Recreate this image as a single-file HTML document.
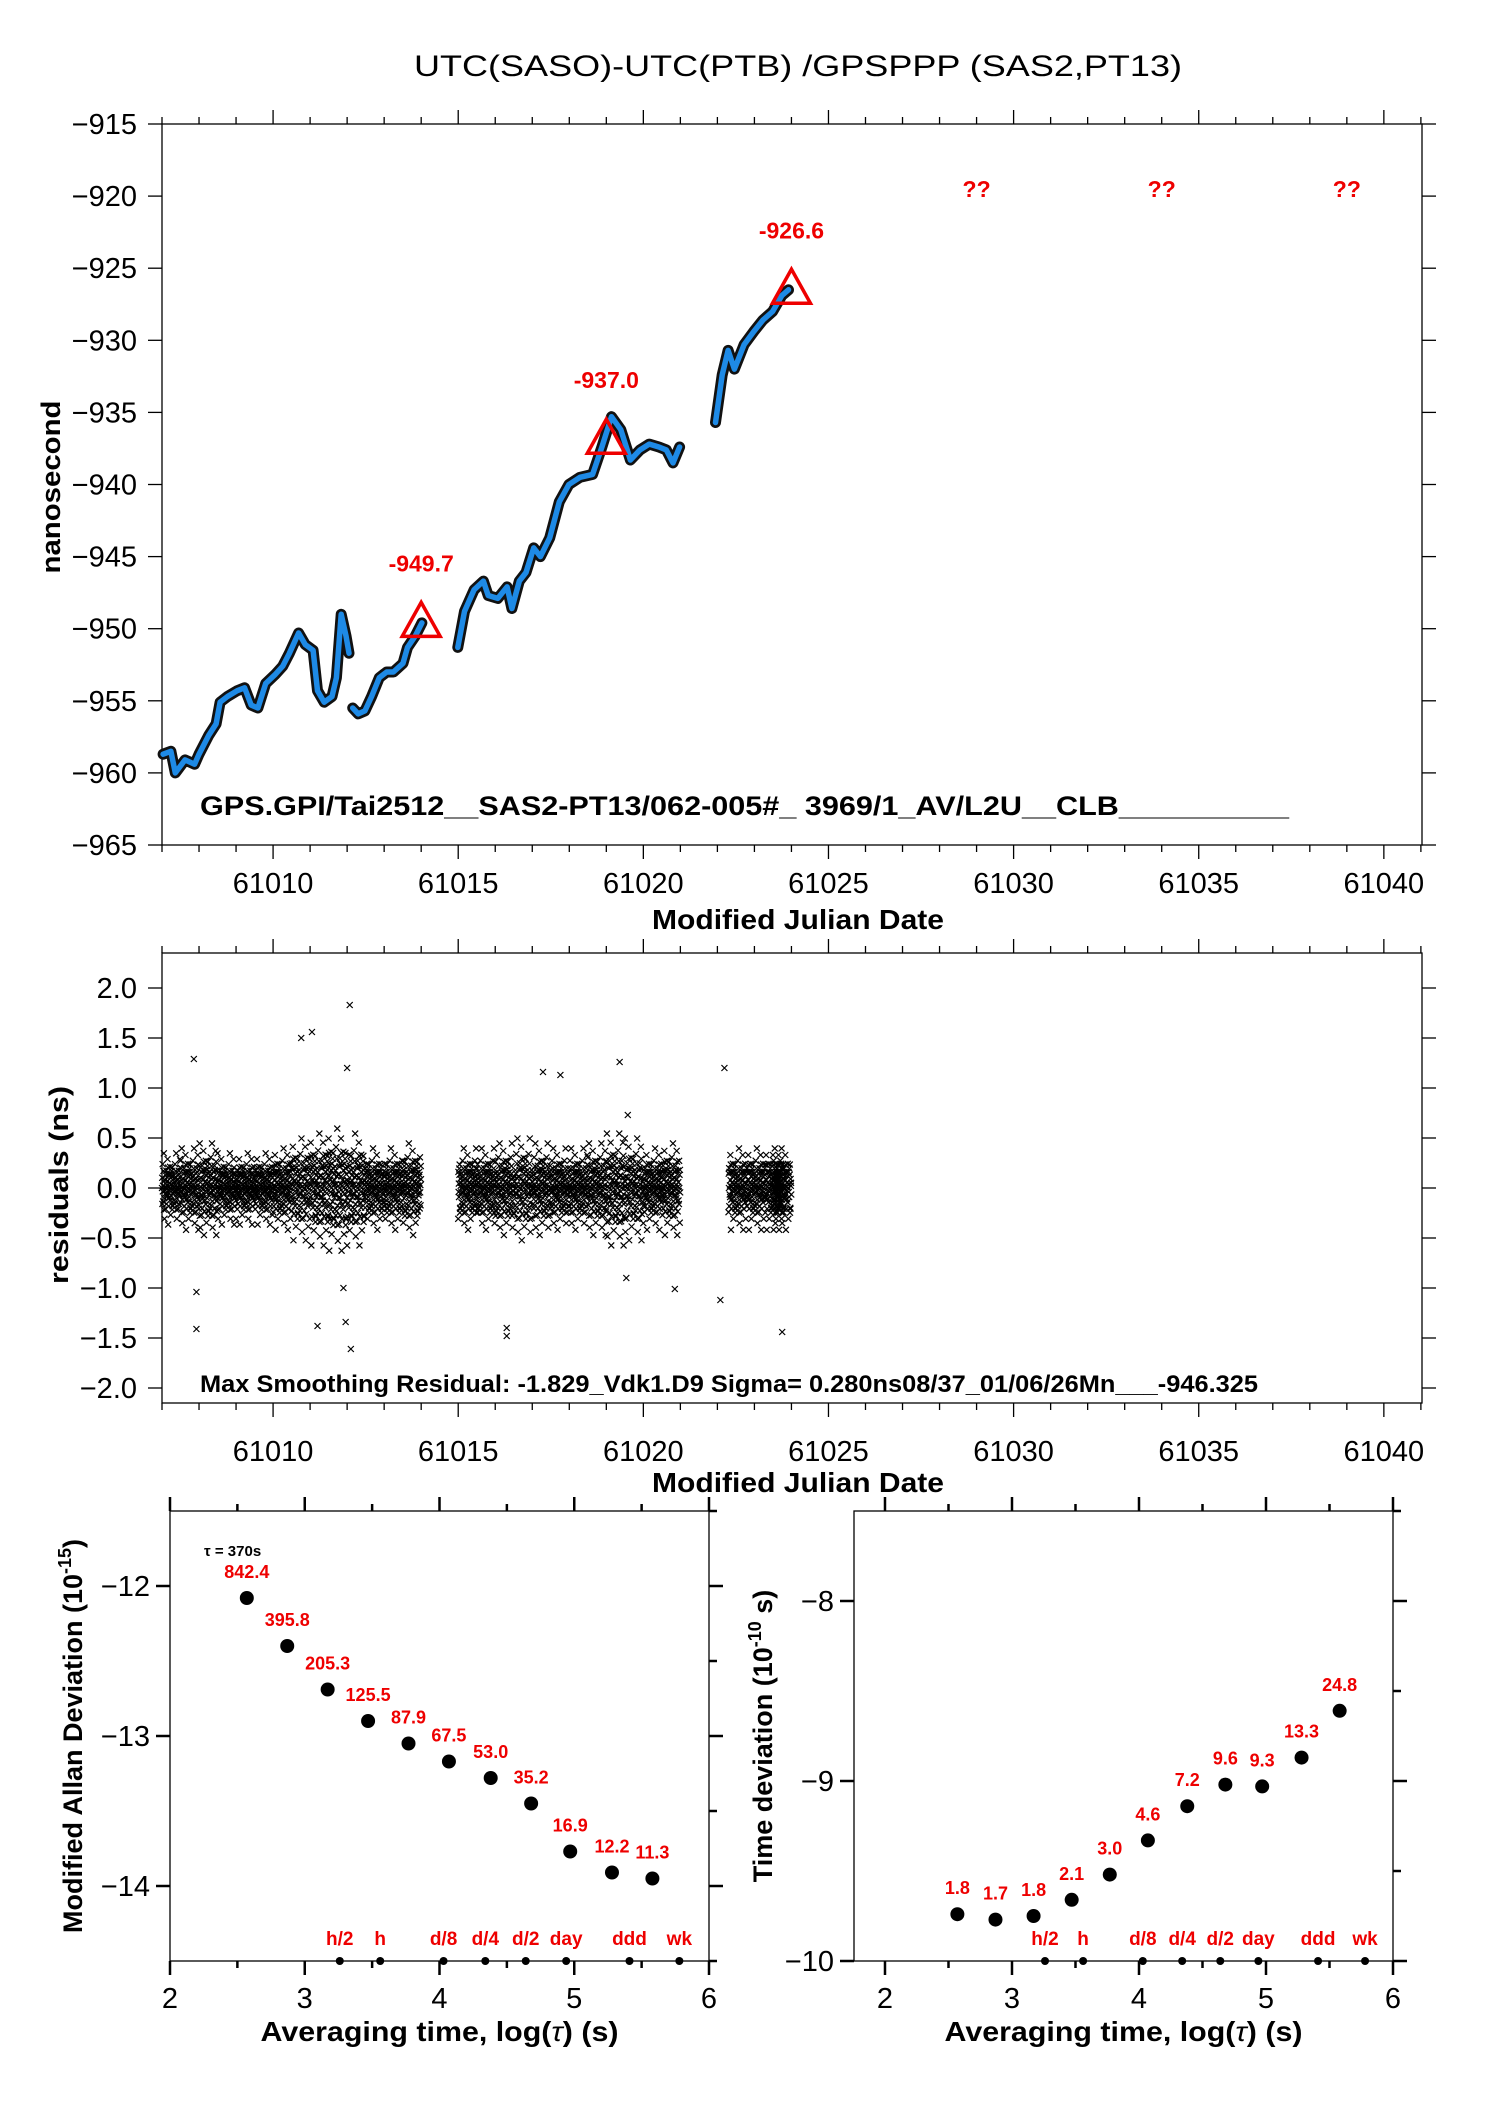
<!DOCTYPE html>
<html><head><meta charset="utf-8"><style>
html,body{margin:0;padding:0;background:#fff}
svg{display:block}
text{font-family:"Liberation Sans",sans-serif}
</style></head><body>
<svg id="svg" width="1488" height="2105" viewBox="0 0 1488 2105" xmlns="http://www.w3.org/2000/svg">
<rect width="1488" height="2105" fill="#fff"/>
<text x="798" y="76" font-size="30" text-anchor="middle" textLength="768" lengthAdjust="spacingAndGlyphs">UTC(SASO)-UTC(PTB)  /GPSPPP  (SAS2,PT13)</text>
<g id="g1"></g>
<g id="g2"></g>
<g id="g3"></g>
<g id="g4"></g>
</svg>
<script>
// ---- top chart data ----
const tMjd = [61007.03,61007.24,61007.36,61007.62,61007.88,61008.0,61008.26,61008.46,61008.57,61008.77,61009.03,61009.23,61009.41,61009.59,61009.80,61010.05,61010.26,61010.44,61010.69,61010.87,61011.08,61011.20,61011.38,61011.59,61011.71,61011.84,61011.97,61012.05,null,
61012.15,61012.30,61012.48,61012.66,61012.87,61013.07,61013.25,61013.51,61013.63,61013.84,61014.02,null,
61014.99,61015.17,61015.43,61015.68,61015.81,61016.07,61016.32,61016.45,61016.65,61016.83,61017.04,61017.22,61017.47,61017.73,61017.99,61018.29,61018.63,61018.88,61019.14,61019.39,61019.65,61019.91,61020.16,61020.42,61020.62,61020.80,61020.98,null,
61021.95,61022.13,61022.29,61022.46,61022.72,61022.98,61023.23,61023.49,61023.74,61023.92];
const tVal = [-958.7,-958.5,-960,-959.1,-959.4,-958.7,-957.4,-956.6,-955.1,-954.7,-954.3,-954.1,-955.3,-955.5,-953.8,-953.2,-952.6,-951.7,-950.3,-951.1,-951.5,-954.3,-955.1,-954.7,-953.4,-949.0,-950.5,-951.7,null,
-955.5,-955.9,-955.7,-954.7,-953.4,-953.0,-953.0,-952.4,-951.3,-950.5,-949.6,null,
-951.3,-948.8,-947.3,-946.7,-947.7,-947.9,-947.1,-948.6,-946.7,-946.1,-944.4,-945.0,-943.7,-941.2,-940.0,-939.5,-939.3,-937.4,-935.3,-936.2,-938.3,-937.6,-937.2,-937.4,-937.6,-938.5,-937.4,null,
-935.7,-932.4,-930.7,-932.0,-930.3,-929.4,-928.6,-928.0,-926.9,-926.5];
const markMjd = [61014,61019,61024];
const markVal = [-949.7,-937.0,-926.6];
const qMjd = [61029,61034,61039];
// ---- residuals data ----
const binStart = [61007.0,61007.5,61008.0,61008.5,61009.0,61009.5,61010.0,61010.5,61011.0,61011.5,61012.0,61012.5,61013.0,61013.5,61015.0,61015.5,61016.0,61016.5,61017.0,61017.5,61018.0,61018.5,61019.0,61019.5,61020.0,61020.5,61022.3,61022.8,61023.3,61023.5];
const binSpread = [0.35,0.4,0.45,0.35,0.35,0.35,0.4,0.5,0.55,0.6,0.55,0.4,0.4,0.45,0.4,0.4,0.45,0.5,0.45,0.4,0.4,0.45,0.55,0.5,0.4,0.45,0.4,0.4,0.4,0.4];
const outMjd = [61007.86,61007.93,61007.93,61010.76,61011.05,61012.07,61011.96,61012.10,61011.20,61016.31,61016.31,61017.29,61017.76,61019.36,61019.54,61020.85,61022.08,61022.19,61023.75,61019.58,61012.0,61011.9];
const outVal = [1.29,-1.04,-1.41,1.5,1.56,1.83,-1.34,-1.61,-1.38,-1.4,-1.48,1.16,1.13,1.26,-0.90,-1.01,-1.12,1.2,-1.44,0.73,1.2,-1.0];
// ---- stability data ----
const logTau = [2.57,2.87,3.17,3.47,3.77,4.07,4.38,4.68,4.97,5.28,5.58];
const mdev = [-12.08,-12.40,-12.69,-12.90,-13.05,-13.17,-13.28,-13.45,-13.77,-13.91,-13.95];
const mdevLbl = ["842.4","395.8","205.3","125.5","87.9","67.5","53.0","35.2","16.9","12.2","11.3"];
const tdev = [-9.74,-9.77,-9.75,-9.66,-9.52,-9.33,-9.14,-9.02,-9.03,-8.87,-8.61];
const tdevLbl = ["1.8","1.7","1.8","2.1","3.0","4.6","7.2","9.6","9.3","13.3","24.8"];
const markTau = [3.26,3.56,4.03,4.34,4.64,4.94,5.41,5.78];
const markLbl = ["h/2","h","d/8","d/4","d/2","day","ddd","wk"];

const NS="http://www.w3.org/2000/svg";
function el(p,tag,a,txt){const e=document.createElementNS(NS,tag);for(const k in a)e.setAttribute(k,a[k]);if(txt!==undefined)e.textContent=txt;p.appendChild(e);return e;}
function mk(c){c.sx=v=>c.x0+(v-c.xmin)/(c.xmax-c.xmin)*(c.x1-c.x0);c.sy=v=>c.y1-(v-c.ymin)/(c.ymax-c.ymin)*(c.y1-c.y0);return c;}
function frame(g,c){
  const r=el(g,'rect',{x:c.x0,y:c.y0,width:c.x1-c.x0,height:c.y1-c.y0,fill:'none',stroke:'#000','stroke-width':1.3});
  
  
  const tk=el(g,'g',{stroke:'#000','stroke-width':c.tw||1.3});
  
  
  for(let v=c.xt0;v<=c.xmax+1e-9;v+=c.xmin_step){
    if(v<c.xmin-1e-9)continue;const x=c.sx(v);const maj=Math.abs(v/c.xmaj-Math.round(v/c.xmaj))<1e-6;const L=maj?14:7;
    el(tk,'line',{x1:x,x2:x,y1:c.y0,y2:c.y0-L});el(tk,'line',{x1:x,x2:x,y1:c.y1,y2:c.y1+L});
  }
  for(let v=c.yt0;v<=c.ymax+1e-9;v+=c.ymin_step){
    if(v<c.ymin-1e-9)continue;const y=c.sy(v);const maj=Math.abs(v/c.ymaj-Math.round(v/c.ymaj))<1e-6;const L=maj?14:8;
    el(tk,'line',{x1:c.x0,x2:c.x0-(c.leftMinor||maj?L:0),y1:y,y2:y});el(tk,'line',{x1:c.x1,x2:c.x1+L,y1:y,y2:y});
  }
}
function xlabels(g,c,vals,fmt,y){vals.forEach(v=>{const t=el(g,'text',{x:c.sx(v),y:y,'font-size':29,'text-anchor':'middle'},fmt(v));});}
function ylabels(g,c,vals,fmt,x){vals.forEach(v=>{const t=el(g,'text',{x:x,y:c.sy(v)+10,'font-size':29,'text-anchor':'end'},fmt(v));});}
const mfmt=v=>(v<0?'\u2212':'')+Math.abs(v);
const mjdTicks=[61010,61015,61020,61025,61030,61035,61040];

// ===== Chart 1 =====
const g1=document.getElementById('g1');
const c1=mk({x0:162,x1:1422,y0:124,y1:845,xmin:61007.0,xmax:61041.03,ymin:-965,ymax:-915,xt0:61007,xmin_step:1,xmaj:5,yt0:-965,ymin_step:5,ymaj:5,leftMinor:true});
frame(g1,c1);
ylabels(g1,c1,[-915,-920,-925,-930,-935,-940,-945,-950,-955,-960,-965],mfmt,137);
xlabels(g1,c1,mjdTicks,v=>String(v),893);
let segs=[[]];tMjd.forEach((m,i)=>{if(m===null)segs.push([]);else segs[segs.length-1].push([c1.sx(m),c1.sy(tVal[i])]);});
segs.forEach(s=>{const d='M'+s.map(p=>p[0].toFixed(1)+','+p[1].toFixed(1)).join('L');
  const b=el(g1,'path',{d:d,fill:'none',stroke:'#111','stroke-width':11,'stroke-linejoin':'round','stroke-linecap':'round'});
  
  });
segs.forEach(s=>{const d='M'+s.map(p=>p[0].toFixed(1)+','+p[1].toFixed(1)).join('L');
  const b=el(g1,'path',{d:d,fill:'none',stroke:'#1e8ae6','stroke-width':5.5,'stroke-linejoin':'round','stroke-linecap':'round'});
  
  });
markMjd.forEach((m,i)=>{const x=c1.sx(m),y=c1.sy(markVal[i]);
  const p=el(g1,'polygon',{points:`${x},${y-22} ${x-19},${y+12} ${x+19},${y+12}`,fill:'none',stroke:'#e00','stroke-width':3.5});
  
  
  const t=el(g1,'text',{x:x,y:y-53,'font-size':23,'font-weight':'bold',fill:'#e00','text-anchor':'middle'},markVal[i].toFixed(1));
  
  });
qMjd.forEach(m=>{const t=el(g1,'text',{x:c1.sx(m),y:197,'font-size':23,'font-weight':'bold',fill:'#e00','text-anchor':'middle'},'??');
  
  });
let t=el(g1,'text',{x:200,y:815,'font-size':27,'font-weight':'bold',textLength:1089,lengthAdjust:'spacingAndGlyphs'},'GPS.GPI/Tai2512__SAS2-PT13/062-005#_  3969/1_AV/L2U__CLB__________');


t=el(g1,'text',{x:798,y:929,'font-size':28,'font-weight':'bold','text-anchor':'middle',textLength:292,lengthAdjust:'spacingAndGlyphs'},'Modified Julian Date');


t=el(g1,'text',{x:0,y:0,'font-size':27,'font-weight':'bold','text-anchor':'middle',transform:'translate(60,487) rotate(-90)',textLength:173,lengthAdjust:'spacingAndGlyphs'},'nanosecond');



// ===== Chart 2 =====
const g2=document.getElementById('g2');
const c2=mk({x0:162,x1:1422,y0:953,y1:1403,xmin:61007.0,xmax:61041.03,ymin:-2.15,ymax:2.35,xt0:61007,xmin_step:1,xmaj:5,yt0:-2.0,ymin_step:0.5,ymaj:0.5,leftMinor:true});
frame(g2,c2);
ylabels(g2,c2,[2,1.5,1,0.5,0,-0.5,-1,-1.5,-2],v=>(v<0?'\u2212':'')+Math.abs(v).toFixed(1),137);
xlabels(g2,c2,mjdTicks,v=>String(v),1461);
const cr=el(g2,'g',{stroke:'#000','stroke-width':1.2,fill:'none'});


function cross(x,y){el(cr,'path',{d:`M${x-3},${y-3}L${x+3},${y+3}M${x-3},${y+3}L${x+3},${y-3}`});}
const pat=[0,0.62,-0.35,0.9,-0.8,0.2,-0.55,0.45,-0.15,0.75,-0.95,0.35,-0.25,0.55,-0.7,0.1,0.3,-0.45,0.05,-0.1];
binStart.forEach((b,i)=>{const n=90;for(let j=0;j<n;j++){const m=b+j/n*0.5;const v=binSpread[i]*pat[(j*7+i)%pat.length]*(j%3===0?1.1:0.65);cross(c2.sx(m),c2.sy(v));}});
outMjd.forEach((m,i)=>cross(c2.sx(m),c2.sy(outVal[i])));
t=el(g2,'text',{x:200,y:1392,'font-size':24,'font-weight':'bold',textLength:1058,lengthAdjust:'spacingAndGlyphs'},'Max Smoothing Residual: -1.829_Vdk1.D9  Sigma= 0.280ns08/37_01/06/26Mn___-946.325');


t=el(g2,'text',{x:798,y:1492,'font-size':28,'font-weight':'bold','text-anchor':'middle',textLength:292,lengthAdjust:'spacingAndGlyphs'},'Modified Julian Date');


t=el(g2,'text',{x:0,y:0,'font-size':27,'font-weight':'bold','text-anchor':'middle',transform:'translate(68,1185) rotate(-90)',textLength:198,lengthAdjust:'spacingAndGlyphs'},'residuals (ns)');



// ===== Stability charts =====
function stab(g,c,vals,lbls,ylab,ytitle,ytx){
  frame(g,c);
  xlabels(g,c,[2,3,4,5,6],v=>String(v),2008);
  ylabels(g,c,ylab,mfmt,c.x0-20);
  vals.forEach((v,i)=>{const x=c.sx(logTau[i]),y=c.sy(v);
    const d=el(g,'circle',{cx:x,cy:y,r:7,fill:'#000'});
    
    
    const l=el(g,'text',{x:x,y:y-20,'font-size':18,'font-weight':'bold',fill:'#e00','text-anchor':'middle'},lbls[i]);
    
    });
  markTau.forEach((m,i)=>{const x=c.sx(m);
    const d=el(g,'circle',{cx:x,cy:c.y1,r:4,fill:'#000'});
    
    
    const l=el(g,'text',{x:x,y:c.y1-16,'font-size':19,'font-weight':'bold',fill:'#e00','text-anchor':'middle'},markLbl[i]);
    
    });
  const cx=(c.x0+c.x1)/2;
  let a=el(g,'text',{x:cx,y:2041,'font-size':28,'font-weight':'bold','text-anchor':'middle',textLength:358,lengthAdjust:'spacingAndGlyphs'});
  
  
  a.innerHTML='Averaging time, log(<tspan font-weight="normal" font-style="italic">τ</tspan>) (s)';
  a=el(g,'text',{x:0,y:0,'font-size':27,'font-weight':'bold','text-anchor':'middle',transform:`translate(${ytx},1736) rotate(-90)`});
  
  
  a.innerHTML=ytitle;
}
const g3=document.getElementById('g3');
const c3=mk({x0:170,x1:709,y0:1511,y1:1961,xmin:2,xmax:6,ymin:-14.5,ymax:-11.5,xt0:2,xmin_step:0.5,xmaj:1,yt0:-14.5,ymin_step:0.5,ymaj:1,leftMinor:false,tw:2.5});
stab(g3,c3,mdev,mdevLbl,[-12,-13,-14],'Modified Allan Deviation (10<tspan font-size="18" dy="-11">-15</tspan><tspan dy="11">)</tspan>',82);
t=el(g3,'text',{x:204,y:1556,'font-size':15,'font-weight':'bold'},'\u03C4 = 370s');


const g4=document.getElementById('g4');
const c4=mk({x0:854,x1:1393,y0:1511,y1:1961,xmin:1.756,xmax:6,ymin:-10,ymax:-7.5,xt0:2,xmin_step:0.5,xmaj:1,yt0:-10,ymin_step:0.5,ymaj:1,leftMinor:false,tw:2.5});
stab(g4,c4,tdev,tdevLbl,[-8,-9,-10],'Time deviation (10<tspan font-size="18" dy="-11">-10</tspan><tspan dy="11"> s)</tspan>',772);
</script>
</body></html>
